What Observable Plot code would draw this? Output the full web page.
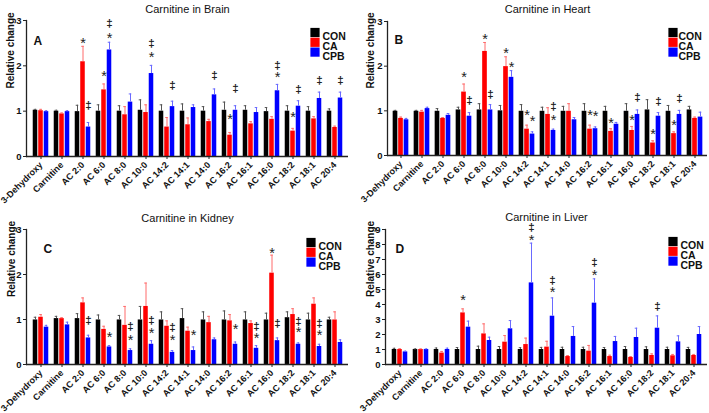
<!DOCTYPE html>
<html><head><meta charset="utf-8">
<script src="https://cdn.jsdelivr.net/npm/d3@7"></script>
<script src="https://cdn.jsdelivr.net/npm/@observablehq/plot@0.6"></script>
<style>
body{margin:0;background:#fff;}
#root{position:relative;width:709px;height:413px;overflow:hidden;background:#fff;}
.panel{position:absolute;}
</style></head><body><div id="root"></div>
<script>
// ---------- data ----------
const categories = ["3-Dehydroxy","Carnitine","AC 2:0","AC 6:0","AC 8:0","AC 10:0","AC 14:2","AC 14:1","AC 14:0","AC 16:2","AC 16:1","AC 16:0","AC 18:2","AC 18:1","AC 20:4"];
const groups = ["CON","CA","CPB"];
const ticks3 = [0,1,2,3];
const ticks9 = [0,1,2,3,4,5,6,7,8,9];

const brainCON    = [1.02,1.00,0.99,1.00,1.00,1.02,1.00,1.00,1.00,1.02,1.02,0.99,1.00,1.00,1.00];
const brainCONerr = [0.02,0.02,0.14,0.14,0.12,0.23,0.14,0.16,0.10,0.18,0.10,0.09,0.12,0.10,0.05];
const brainCA     = [1.01,0.94,2.09,1.47,0.92,0.97,0.65,0.70,0.77,0.47,0.72,0.82,0.56,0.83,0.64];
const brainCAerr  = [0.03,0.02,0.34,0.13,0.18,0.17,0.21,0.15,0.05,0.06,0.05,0.06,0.06,0.05,0.03];
const brainCPB    = [0.99,0.99,0.65,2.35,1.20,1.83,1.10,1.08,1.36,1.02,0.97,1.45,1.11,1.28,1.29];
const brainCPBerr = [0.02,0.02,0.10,0.17,0.18,0.18,0.12,0.06,0.13,0.10,0.11,0.14,0.12,0.14,0.13];

const heartCON    = [0.99,0.99,0.99,1.02,1.02,1.00,0.99,0.99,0.99,0.99,0.99,0.99,1.02,0.99,1.02];
const heartCONerr = [0.02,0.02,0.06,0.06,0.14,0.12,0.15,0.09,0.11,0.17,0.11,0.17,0.23,0.13,0.08];
const heartCA     = [0.83,0.97,0.83,1.42,2.33,1.99,0.59,0.92,0.99,0.59,0.54,0.56,0.28,0.49,0.83];
const heartCAerr  = [0.03,0.04,0.02,0.18,0.20,0.22,0.09,0.15,0.17,0.09,0.06,0.09,0.05,0.04,0.03];
const heartCPB    = [0.80,1.05,0.90,0.88,1.02,1.75,0.48,0.56,0.80,0.60,0.70,0.92,0.88,0.92,0.86];
const heartCPBerr = [0.03,0.03,0.04,0.08,0.12,0.15,0.05,0.03,0.05,0.04,0.04,0.10,0.08,0.09,0.11];

const kidneyCON    = [0.99,1.02,1.02,0.99,0.99,0.99,0.99,1.02,0.99,0.99,0.99,0.99,1.04,0.99,0.99];
const kidneyCONerr = [0.06,0.05,0.11,0.11,0.10,0.30,0.18,0.22,0.18,0.20,0.18,0.15,0.13,0.15,0.06];
const kidneyCA     = [1.05,1.02,1.37,0.78,0.87,1.29,0.85,0.74,0.93,0.97,0.91,2.03,1.11,1.34,0.99];
const kidneyCAerr  = [0.06,0.02,0.11,0.07,0.42,0.52,0.12,0.09,0.14,0.14,0.06,0.40,0.13,0.14,0.18];
const kidneyCPB    = [0.83,0.88,0.59,0.39,0.31,0.45,0.27,0.31,0.55,0.45,0.36,0.53,0.45,0.40,0.49];
const kidneyCPBerr = [0.04,0.06,0.06,0.03,0.04,0.08,0.04,0.08,0.04,0.05,0.06,0.06,0.03,0.05,0.06];

const liverCON    = [1.00,1.00,1.00,1.00,1.00,1.00,1.00,1.00,1.00,1.00,1.00,1.00,1.00,1.00,1.00];
const liverCONerr = [0.08,0.04,0.10,0.13,0.22,0.20,0.12,0.14,0.15,0.15,0.13,0.20,0.18,0.15,0.14];
const liverCA     = [1.00,1.00,0.76,3.44,2.04,1.49,1.33,1.16,0.53,0.89,0.53,0.47,0.60,0.58,0.60];
const liverCAerr  = [0.05,0.04,0.11,0.27,0.67,0.44,0.43,0.39,0.07,0.38,0.09,0.06,0.11,0.09,0.07];
const liverCPB    = [0.84,1.00,1.00,2.49,1.60,2.38,5.44,3.22,1.87,4.09,1.53,1.80,2.42,1.51,2.00];
const liverCPBerr = [0.05,0.04,0.09,0.40,0.22,0.55,2.65,1.22,0.66,1.62,0.34,0.62,0.82,0.40,0.53];

// significance marks: [category, group, y position, symbol]
const brainSig = [
  ["AC 2:0","CA",2.57,"*"],["AC 2:0","CPB",1.12,"‡"],
  ["AC 6:0","CA",1.84,"*"],["AC 6:0","CPB",2.68,"*"],["AC 6:0","CPB",2.93,"‡"],
  ["AC 10:0","CPB",2.27,"*"],["AC 10:0","CPB",2.49,"‡"],
  ["AC 14:2","CPB",1.57,"‡"],["AC 14:0","CPB",1.79,"‡"],
  ["AC 16:2","CA",0.90,"*"],["AC 16:2","CPB",1.51,"‡"],
  ["AC 16:0","CPB",1.83,"*"],["AC 16:0","CPB",2.01,"‡"],
  ["AC 18:2","CA",0.94,"*"],["AC 18:2","CPB",1.49,"‡"],
  ["AC 18:1","CPB",1.69,"‡"],["AC 20:4","CPB",1.69,"‡"]
];
const heartSig = [
  ["AC 6:0","CA",1.83,"*"],["AC 6:0","CPB",1.23,"‡"],
  ["AC 8:0","CA",2.68,"*"],["AC 8:0","CPB",1.37,"‡"],
  ["AC 10:0","CA",2.36,"*"],["AC 10:0","CPB",2.06,"*"],
  ["AC 14:2","CA",0.97,"*"],["AC 14:2","CPB",0.85,"*"],
  ["AC 14:1","CPB",0.86,"*"],["AC 14:1","CPB",1.10,"‡"],
  ["AC 16:2","CA",0.97,"*"],["AC 16:2","CPB",0.95,"*"],
  ["AC 16:1","CA",0.80,"*"],
  ["AC 16:0","CA",0.86,"*"],["AC 16:0","CPB",1.31,"‡"],
  ["AC 18:2","CA",0.56,"*"],["AC 18:2","CPB",1.22,"‡"],
  ["AC 18:1","CA",0.75,"*"],["AC 18:1","CPB",1.27,"‡"]
];
const kidneySig = [
  ["AC 2:0","CPB",0.99,"‡"],
  ["AC 6:0","CPB",0.68,"*"],
  ["AC 8:0","CPB",0.85,"‡"],["AC 8:0","CPB",0.62,"*"],
  ["AC 10:0","CPB",0.98,"‡"],["AC 10:0","CPB",0.76,"*"],
  ["AC 14:2","CPB",0.83,"‡"],["AC 14:2","CPB",0.61,"*"],
  ["AC 14:1","CPB",0.72,"*"],
  ["AC 16:2","CPB",0.85,"*"],
  ["AC 16:1","CPB",0.85,"‡"],["AC 16:1","CPB",0.65,"*"],
  ["AC 16:0","CA",2.55,"*"],["AC 16:0","CPB",0.92,"‡"],
  ["AC 18:2","CPB",0.97,"‡"],["AC 18:2","CPB",0.79,"*"],
  ["AC 18:1","CPB",0.91,"‡"],["AC 18:1","CPB",0.72,"*"]
];
const liverSig = [
  ["AC 6:0","CA",4.53,"*"],
  ["AC 14:2","CPB",8.53,"*"],["AC 14:2","CPB",9.16,"‡"],
  ["AC 14:1","CPB",5.04,"*"],["AC 14:1","CPB",5.64,"‡"],
  ["AC 16:2","CPB",6.16,"*"],["AC 16:2","CPB",6.82,"‡"],
  ["AC 18:2","CPB",3.87,"‡"]
];

// ---------- style ----------
const colors = {CON:"#000000", CA:"#ff0000", CPB:"#0000ff"};
const errColors = {CON:"#555555", CA:"#ff6a6a", CPB:"#6a6aff"};
const offsets = {CON:-5.5, CA:0, CPB:5.5};
const barW = 5;
const FONT = "'Liberation Sans', Arial, sans-serif";

function drawPanel(p) {
  const bw = (p.width - p.mL - p.mR) / categories.length;
  const marks = [];
  groups.forEach((g, gi) => {
    const data = categories.map((c, i) => ({cat: c, value: p.vals[gi][i], err: p.errs[gi][i]}));
    const off = offsets[g];
    marks.push(Plot.barY(data, {x: "cat", y: "value", fill: colors[g],
      insetLeft: bw/2 + off - barW/2, insetRight: bw/2 - off - barW/2}));
    marks.push(Plot.ruleX(data, {x: "cat", y1: "value", y2: d => d.value + d.err, dx: off, stroke: errColors[g], strokeWidth: 1}));
    marks.push(Plot.tickY(data, {x: "cat", y: d => d.value + d.err, stroke: errColors[g], strokeWidth: 1,
      insetLeft: bw/2 + off - 1.5, insetRight: bw/2 - off - 1.5}));
  });
  marks.push(Plot.ruleY([0], {stroke: "#222", strokeWidth: 1.3}));
  marks.push(Plot.frame({anchor: "left", stroke: "#222", strokeWidth: 1.3}));
  marks.push(Plot.axisY({ticks: p.ticks, tickFormat: d => String(d), tickSize: 3, tickPadding: 2, fontSize: 9.5, fontWeight: "bold", fill: "#111", label: null}));
  marks.push(Plot.axisX({tickSize: 3, tickPadding: 4, tickRotate: -45, fontSize: 9, fontWeight: "bold", fill: "#111", label: null}));
  // significance symbols
  const sig = p.sig.map(([cat, group, y, text]) => ({cat, group, y, text}));
  groups.forEach(g => {
    marks.push(Plot.text(sig.filter(d => d.group === g && d.text === "*"),
      {x: "cat", y: "y", text: "text", dx: offsets[g], dy: 3.5, fontSize: 14.5, fill: "#222"}));
    marks.push(Plot.text(sig.filter(d => d.group === g && d.text === "‡"),
      {x: "cat", y: "y", text: "text", dx: offsets[g], fontSize: 11.5, fontWeight: "bold", fill: "#222"}));
  });
  // title, panel letter, axis label
  marks.push(Plot.text([p.title], {text: d => d, frameAnchor: "top", dy: p.titleDy, fontSize: 11, fill: "#111"}));
  marks.push(Plot.text([p.letter], {text: d => d, frameAnchor: "top-left", dx: p.letterDx, dy: p.letterDy, textAnchor: "start", fontSize: 12, fontWeight: "bold", fill: "#111"}));
  marks.push(Plot.text(["Relative change"], {text: d => d, frameAnchor: "left", dx: p.labelDx, rotate: -90, fontSize: 10, fontWeight: "bold", fill: "#111"}));
  // legend
  groups.forEach((g, k) => {
    marks.push(Plot.dot([g], {frameAnchor: "top-right", dx: p.legSqDx, dy: p.legDy + k * 9.8, symbol: "square", r: 5.2, fill: colors[g]}));
    marks.push(Plot.text([g], {text: d => d, frameAnchor: "top-right", dx: p.legTxDx, dy: p.legDy + k * 9.8, textAnchor: "start", fontSize: 10.5, fontWeight: "bold", fill: "#111"}));
  });
  const svg = Plot.plot({
    width: p.width, height: p.height,
    marginLeft: p.mL, marginRight: p.mR, marginTop: p.mT, marginBottom: p.mB,
    x: {domain: categories, padding: 0, label: null},
    y: {domain: [0, p.ticks[p.ticks.length - 1]], label: null},
    style: {fontFamily: FONT, background: "transparent", overflow: "visible", color: "#222"},
    marks
  });
  const div = document.createElement("div");
  div.className = "panel";
  div.style.left = p.left + "px";
  div.style.top = p.top + "px";
  div.appendChild(svg);
  document.getElementById("root").appendChild(div);
}

drawPanel({title: "Carnitine in Kidney", letter: "C", left: 0, top: 200, width: 355, height: 213, mL: 26, mR: 7, mT: 29, mB: 49,
  ticks: ticks3, vals: [kidneyCON, kidneyCA, kidneyCPB], errs: [kidneyCONerr, kidneyCAerr, kidneyCPBerr], sig: kidneySig,
  titleDy: -15, letterDx: 17, letterDy: 14.5, labelDx: -15, legSqDx: -37.5, legTxDx: -30, legDy: 13});
drawPanel({title: "Carnitine in Liver", letter: "D", left: 355, top: 200, width: 354, height: 213, mL: 30, mR: 2, mT: 29, mB: 49,
  ticks: ticks9, vals: [liverCON, liverCA, liverCPB], errs: [liverCONerr, liverCAerr, liverCPBerr], sig: liverSig,
  titleDy: -16, letterDx: 10, letterDy: 15, labelDx: -15, legSqDx: -34.5, legTxDx: -27, legDy: 12});
drawPanel({title: "Carnitine in Brain", letter: "A", left: 0, top: 0, width: 355, height: 200, mL: 26, mR: 7, mT: 20, mB: 44,
  ticks: ticks3, vals: [brainCON, brainCA, brainCPB], errs: [brainCONerr, brainCAerr, brainCPBerr], sig: brainSig,
  titleDy: -15, letterDx: 7, letterDy: 16, labelDx: -16, legSqDx: -33.5, legTxDx: -26, legDy: 12});
drawPanel({title: "Carnitine in Heart", letter: "B", left: 355, top: 0, width: 354, height: 200, mL: 32, mR: 2, mT: 21, mB: 45,
  ticks: ticks3, vals: [heartCON, heartCA, heartCPB], errs: [heartCONerr, heartCAerr, heartCPBerr], sig: heartSig,
  titleDy: -16, letterDx: 7, letterDy: 14, labelDx: -17, legSqDx: -34.5, legTxDx: -29, legDy: 11});
</script></body></html>
